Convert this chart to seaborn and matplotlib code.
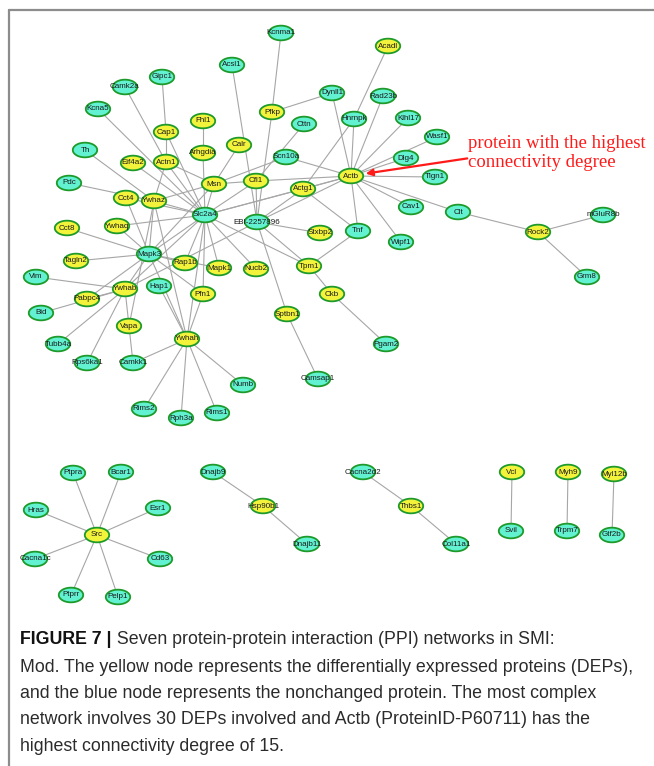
import numpy as np
import pandas as pd
import matplotlib
matplotlib.use("Agg")
import matplotlib.pyplot as plt
from matplotlib.path import Path
from matplotlib.collections import LineCollection
import seaborn as sns

# node layout (pixel coordinates)
NODES = ["Kcnma1", "Acsl1", "Gipc1", "Camk2a", "Kcna5", "Pfkp", "Fhl1", "Cttn", "Cap1", "Th",
         "Calr", "Arhgdia", "Scn10a", "Eif4a2", "Actn1", "Pdc", "Msn", "Cfl1", "Actg1",
         "Acadl", "Dynll1", "Rad23b", "Hnrnpk", "Klhl17", "Wasf1", "Dlg4", "Tlgn1", "Actb",
         "EBI-2257896", "Stxbp2", "Tnf", "Cav1", "Clt", "Wipf1", "Rock2", "mGluR8b", "Grm8",
         "Tpm1", "Nucb2", "Ckb", "Sptbn1", "Pgam2", "Camsap1",
         "Cct4", "Ywhaz", "Slc2a4", "Cct8", "Ywhaq", "Mapk3", "Tagln2", "Rap1b", "Mapk1",
         "Vim", "Hap1", "Ywhab", "Pfn1", "Pabpc4", "Bid", "Vapa", "Ywhah", "Tubb4a",
         "Rps6ka1", "Camkk1", "Numb", "Rims2", "Rph3a", "Rims1",
         "Ptpra", "Bcar1", "Hras", "Esr1", "Src", "Cacna1c", "Cd63", "Ptprr", "Pelp1",
         "Dnajb9", "Hsp90b1", "Dnajb11", "Cacna2d2", "Thbs1", "Col11a1",
         "Vcl", "Svil", "Myh9", "Trpm7", "Myl12b", "Gtf2b"]
NODE_X = [281, 232, 162, 125, 98, 272, 203, 304, 166, 85,
          239, 203, 286, 133, 166, 69, 214, 256, 303,
          388, 332, 383, 354, 408, 437, 406, 435, 351,
          257, 320, 358, 411, 458, 401, 538, 603, 587,
          309, 256, 332, 287, 386, 318,
          126, 154, 205, 67, 117, 149, 76, 185, 219,
          36, 159, 125, 203, 87, 41, 129, 187, 58,
          87, 133, 243, 144, 181, 217,
          73, 121, 36, 158, 97, 35, 160, 71, 118,
          213, 263, 307, 363, 411, 456,
          512, 511, 568, 567, 614, 612]
NODE_Y = [33, 65, 77, 87, 109, 112, 121, 124, 132, 150,
          145, 153, 157, 163, 162, 183, 184, 181, 189,
          46, 93, 96, 119, 118, 137, 158, 177, 176,
          222, 233, 231, 207, 212, 242, 232, 215, 277,
          266, 269, 294, 314, 344, 379,
          198, 201, 215, 228, 226, 254, 261, 263, 268,
          277, 286, 289, 294, 299, 313, 326, 339, 344,
          363, 363, 385, 409, 418, 413,
          473, 472, 510, 508, 535, 559, 559, 595, 597,
          472, 506, 544, 472, 506, 544,
          472, 531, 472, 531, 474, 535]
# differentially expressed proteins (yellow); all others are unchanged (blue)
DEPS = ["Pfkp", "Fhl1", "Cap1", "Calr", "Arhgdia", "Eif4a2", "Actn1", "Msn", "Cfl1", "Actg1",
        "Actb", "Cct4", "Ywhaz", "Cct8", "Ywhaq", "Tagln2", "Rap1b", "Mapk1", "Nucb2", "Ywhab",
        "Pabpc4", "Pfn1", "Vapa", "Ywhah", "Stxbp2", "Tpm1", "Ckb", "Sptbn1", "Acadl", "Rock2",
        "Src", "Hsp90b1", "Thbs1", "Vcl", "Myh9", "Myl12b"]

EDGES = [
    ("Kcnma1", "Pfkp"), ("Dynll1", "Pfkp"), ("Pfkp", "EBI-2257896"), ("Acsl1", "EBI-2257896"),
    ("Gipc1", "Cap1"), ("Cap1", "Actn1"), ("Cap1", "Slc2a4"), ("Camk2a", "Actn1"),
    ("Kcna5", "Slc2a4"), ("Fhl1", "Arhgdia"), ("Arhgdia", "Slc2a4"), ("Calr", "Msn"),
    ("Th", "Ywhaz"), ("Pdc", "Ywhaz"), ("Eif4a2", "Slc2a4"), ("Actn1", "Ywhaz"),
    ("Actn1", "Msn"), ("Actn1", "Slc2a4"), ("Msn", "Slc2a4"), ("Msn", "Cfl1"),
    ("Msn", "Scn10a"), ("Msn", "Mapk3"), ("Msn", "Ywhaz"), ("Cttn", "Cfl1"),
    ("Scn10a", "Actb"), ("Cfl1", "Actb"), ("Cfl1", "EBI-2257896"), ("Cfl1", "Slc2a4"),
    ("Actg1", "Actb"), ("Actg1", "Slc2a4"), ("Actg1", "EBI-2257896"), ("Actg1", "Tnf"),
    ("Actg1", "Hnrnpk"), ("Acadl", "Hnrnpk"), ("Hnrnpk", "Actb"), ("Dynll1", "Actb"),
    ("Rad23b", "Actb"), ("Klhl17", "Actb"), ("Wasf1", "Actb"), ("Dlg4", "Actb"),
    ("Tlgn1", "Actb"), ("Cav1", "Actb"), ("Clt", "Actb"), ("Wipf1", "Actb"),
    ("Tnf", "Actb"), ("Slc2a4", "Actb"), ("EBI-2257896", "Actb"),
    ("Clt", "Rock2"), ("Rock2", "mGluR8b"), ("Rock2", "Grm8"),
    ("EBI-2257896", "Stxbp2"), ("EBI-2257896", "Tpm1"), ("Slc2a4", "Tpm1"),
    ("EBI-2257896", "Sptbn1"), ("EBI-2257896", "Ywhab"), ("Tnf", "Tpm1"),
    ("Tpm1", "Ckb"), ("Ckb", "Pgam2"), ("Sptbn1", "Camsap1"),
    ("Cct4", "Slc2a4"), ("Cct4", "Mapk3"), ("Ywhaz", "Mapk3"), ("Ywhaz", "Slc2a4"),
    ("Ywhaz", "Ywhah"), ("Ywhaz", "Vapa"), ("Ywhaq", "Slc2a4"), ("Ywhaq", "Mapk3"),
    ("Cct8", "Mapk3"), ("Tagln2", "Mapk3"), ("Mapk3", "Slc2a4"), ("Mapk3", "Rap1b"),
    ("Mapk3", "Mapk1"), ("Mapk3", "Pfn1"), ("Mapk3", "Ywhah"), ("Mapk3", "Ywhab"),
    ("Mapk3", "Pabpc4"), ("Slc2a4", "Rap1b"), ("Slc2a4", "Mapk1"), ("Slc2a4", "Nucb2"),
    ("Slc2a4", "Pfn1"), ("Slc2a4", "Ywhab"), ("Slc2a4", "Ywhah"),
    ("Vim", "Ywhab"), ("Bid", "Ywhab"), ("Pabpc4", "Ywhab"), ("Tubb4a", "Ywhab"),
    ("Rps6ka1", "Ywhab"), ("Vapa", "Ywhab"), ("Vapa", "Camkk1"),
    ("Hap1", "Ywhah"), ("Pfn1", "Ywhah"), ("Camkk1", "Ywhah"), ("Ywhah", "Rims2"),
    ("Ywhah", "Rph3a"), ("Ywhah", "Rims1"), ("Ywhah", "Numb"),
    ("Src", "Ptpra"), ("Src", "Bcar1"), ("Src", "Hras"), ("Src", "Esr1"),
    ("Src", "Cacna1c"), ("Src", "Cd63"), ("Src", "Ptprr"), ("Src", "Pelp1"),
    ("Hsp90b1", "Dnajb9"), ("Hsp90b1", "Dnajb11"), ("Thbs1", "Cacna2d2"), ("Thbs1", "Col11a1"),
    ("Vcl", "Svil"), ("Myh9", "Trpm7"), ("Myl12b", "Gtf2b"),
]

CAPTION_BOLD = "FIGURE 7 |"
CAPTION_LINES = [
    " Seven protein-protein interaction (PPI) networks in SMI:",
    "Mod. The yellow node represents the differentially expressed proteins (DEPs),",
    "and the blue node represents the nonchanged protein. The most complex",
    "network involves 30 DEPs involved and Actb (ProteinID-P60711) has the",
    "highest connectivity degree of 15.",
]

df = pd.DataFrame({"name": NODES, "x": NODE_X, "y": NODE_Y})
df["kind"] = np.where(df["name"].isin(DEPS), "DEP", "unchanged")
pos = {n: (x, y) for n, x, y in zip(df["name"], df["x"], df["y"])}

sns.set_style("white")
plt.rcParams["font.family"] = ["Liberation Sans", "DejaVu Sans"]

fig = plt.figure(figsize=(6.54, 7.66), dpi=100)
ax = fig.add_axes([0, 0, 1, 1])
ax.set_xlim(0, 654)
ax.set_ylim(766, 0)
ax.axis("off")

# frame of the figure panel
ax.plot([9, 654], [10, 10], color="#8c8c8c", lw=1.6)
ax.plot([9, 9], [10, 766], color="#8c8c8c", lw=1.6)

segs = [[pos[a], pos[b]] for a, b in EDGES]
ax.add_collection(LineCollection(segs, colors="#a6a6a6", linewidths=0.8, zorder=1))

t = np.linspace(0, 2 * np.pi, 60)
ellipse = Path(np.column_stack([np.cos(t), 0.6 * np.sin(t)]))
sns.scatterplot(data=df, x="x", y="y", hue="kind", ax=ax, marker=ellipse, s=310,
                palette={"DEP": "#f3f33c", "unchanged": "#62f2d2"},
                edgecolor="#1e9a2a", linewidth=1.3, legend=False, zorder=2)

for n, x, y in zip(df["name"], df["x"], df["y"]):
    ax.text(x, y, n, fontsize=5.8, ha="center", va="center", color="#1a1a1a", zorder=3)

# highlight the hub
ax.annotate("", xy=(363, 174), xytext=(470, 158),
            arrowprops=dict(arrowstyle="-|>", color="#ff1a1a", lw=1.6, mutation_scale=10))
ax.text(468, 153, "protein with the highest\nconnectivity degree", color="#ff1a1a",
        fontsize=13.5, family=["Liberation Serif"], ha="left", va="center", linespacing=1.12)

# caption
bold = ax.text(20, 640, CAPTION_BOLD, fontsize=12.8, fontweight="bold", color="#111111",
               va="center", ha="left")
ax.annotate(CAPTION_LINES[0], xy=(1, 0.5), xycoords=bold, fontsize=12.8, color="#2b2b2b",
            va="center", ha="left")
for i, line in enumerate(CAPTION_LINES[1:]):
    ax.text(20, 667 + 26.5 * i, line, fontsize=12.8, color="#2b2b2b", va="center", ha="left")

fig.savefig("out.png", dpi=100)
